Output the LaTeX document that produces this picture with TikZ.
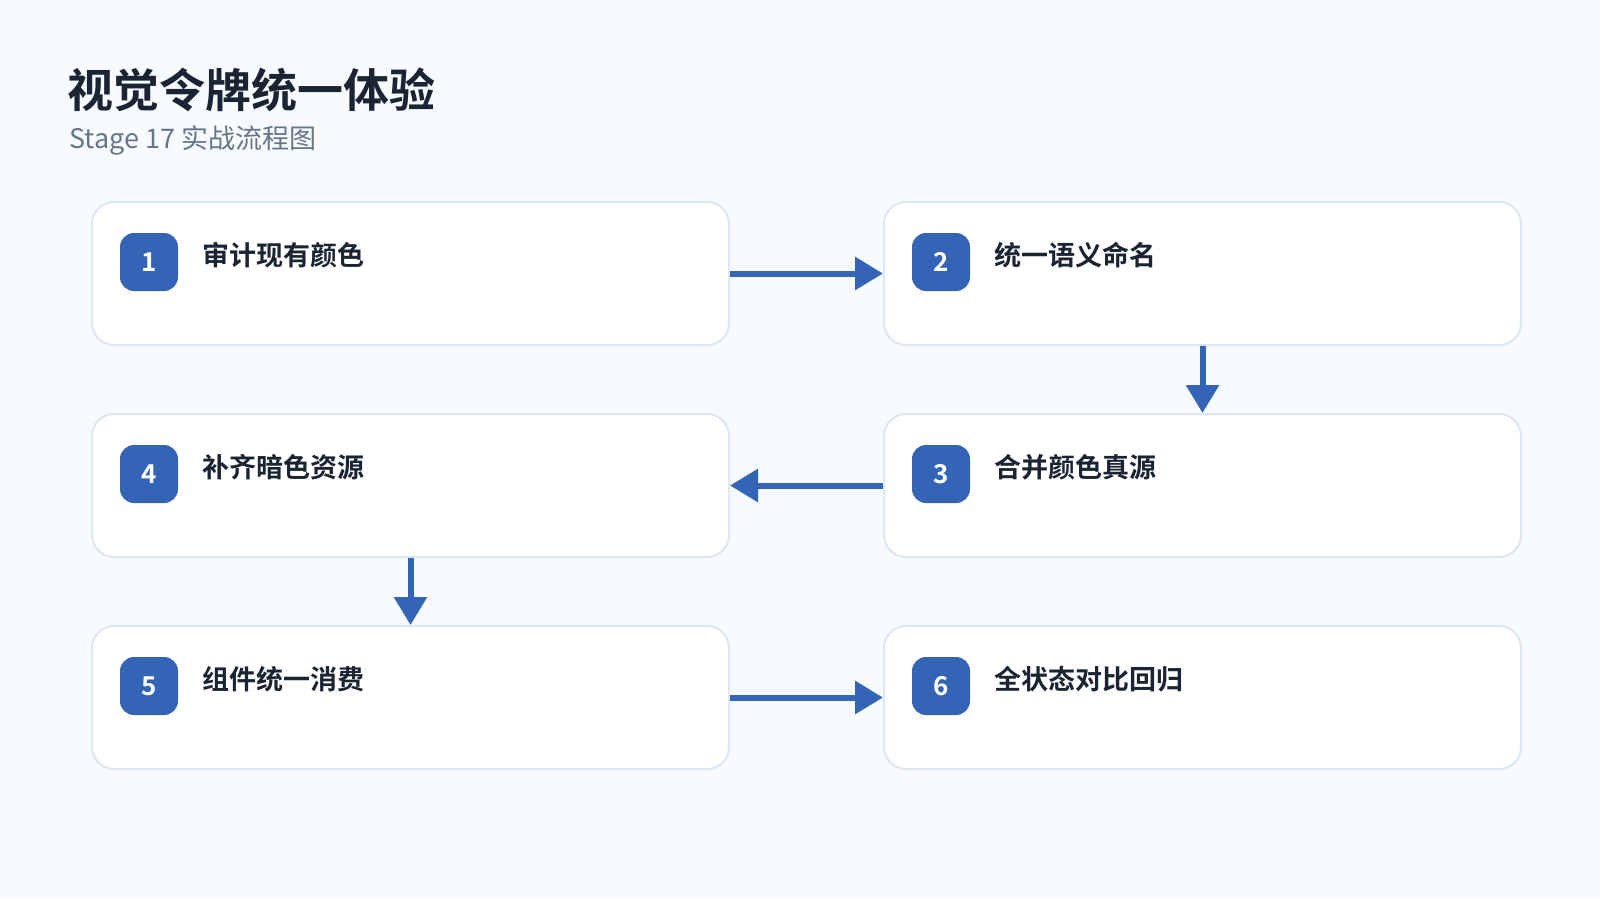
\documentclass[tikz,border=0pt]{standalone}
\usepackage{fontspec}
\setmainfont{Noto Sans CJK SC}
\newfontfamily\cjkbold{Noto Sans CJK SC Bold}
\usetikzlibrary{positioning,arrows.meta}
\definecolor{flowbg}{HTML}{F7FBFF}
\definecolor{flowborder}{HTML}{DCE7F4}
\definecolor{flowblue}{HTML}{3464B6}
\definecolor{flowtitle}{HTML}{1A2433}
\definecolor{flowgray}{HTML}{66758A}

\begin{document}
\begin{tikzpicture}[
        x=1pt, y=-1pt,
        node distance=67pt and 153pt,
        stepbox/.style={rectangle, draw=flowborder, line width=2pt, fill=white, rounded corners=22pt, minimum width=637pt, minimum height=143pt},
        badge/.style={rectangle, fill=flowblue, rounded corners=14pt, minimum size=58pt, text=white, font=\cjkbold\fontsize{26}{26}\selectfont},
        steptext/.style={anchor=west, text=flowtitle, font=\cjkbold\fontsize{27}{27}\selectfont},
        flow/.style={flowblue, line width=6pt, -{Triangle[length=28pt,width=32pt]}}
    ]
        % Canvas
        \fill[flowbg] (0,0) rectangle (1600,900);

        % Header
        \node[anchor=west, text=flowtitle, font=\cjkbold\fontsize{46}{46}\selectfont] (title) at (64,90) {视觉令牌统一体验};
        \node[anchor=west, text=flowgray, font=\fontsize{27}{27}\selectfont] (subtitle) at (66,140) {Stage 17 实战流程图};

        % Steps
        \node[stepbox] (audit) at (410.5,273.5) {};
        \node[stepbox, right=of audit] (naming) {};
        \node[stepbox, below=of naming] (source) {};
        \node[stepbox, below=of audit] (dark) {};
        \node[stepbox, below=of dark] (consume) {};
        \node[stepbox, right=of consume] (regress) {};

        % Badges and labels
        \foreach \stepname/\num/\txt in {audit/1/审计现有颜色, naming/2/统一语义命名, source/3/合并颜色真源, dark/4/补齐暗色资源, consume/5/组件统一消费, regress/6/全状态对比回归} {
            \node[badge] (\stepname-num) at ([shift={(58,61)}]\stepname.north west) {\num};
            \node[steptext] (\stepname-txt) at ([shift={(108,54)}]\stepname.north west) {\txt};
        }

        % Arrows
        \draw[flow] (audit) -- (naming);
        \draw[flow] (naming) -- (source);
        \draw[flow] (source) -- (dark);
        \draw[flow] (dark) -- (consume);
        \draw[flow] (consume) -- (regress);
    \end{tikzpicture}
\end{document}
